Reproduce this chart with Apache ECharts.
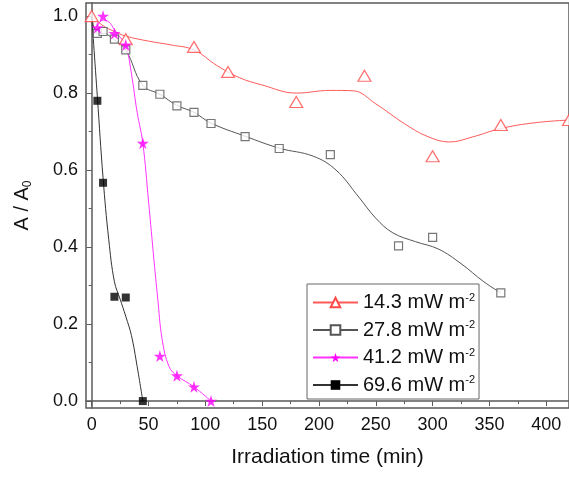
<!DOCTYPE html>
<html>
<head>
<meta charset="utf-8">
<script src="https://cdn.jsdelivr.net/npm/echarts@6/dist/echarts.min.js"></script>
<style>
  html, body { margin: 0; padding: 0; background: #fff; }
  #chart { width: 569px; height: 477px; }
</style>
</head>
<body>
<div id="chart"></div>
<script>
// measured points
var xRed = [0, 30, 90, 120, 180, 240, 300, 360, 420];
var yRed = [1.0, 0.94, 0.92, 0.855, 0.777, 0.845, 0.636, 0.717, 0.73];
var xGray = [5, 10, 20, 30, 45, 60, 75, 90, 105, 135, 165, 210, 270, 300, 360];
var yGray = [0.955, 0.96, 0.94, 0.912, 0.82, 0.797, 0.767, 0.75, 0.721, 0.687, 0.656, 0.64, 0.403, 0.425, 0.281];
var xPink = [5, 10, 20, 30, 45, 60, 75, 90, 105];
var yPink = [0.97, 1.0, 0.955, 0.925, 0.67, 0.117, 0.066, 0.037, 0.0];
var xBlack = [5, 10, 20, 30, 45];
var yBlack = [0.78, 0.567, 0.271, 0.269, 0.0];

// fitted curves
var fitRedX = [0, 10, 20, 30, 50, 70, 90, 110, 130, 150, 180, 210, 230, 250, 275, 295, 315, 335, 360, 390, 420];
var fitRedY = [1.0, 0.975, 0.96, 0.948, 0.935, 0.925, 0.912, 0.872, 0.84, 0.821, 0.80, 0.807, 0.806, 0.772, 0.721, 0.688, 0.673, 0.686, 0.708, 0.723, 0.73];
var fitGrayX = [0, 5, 10, 20, 30, 45, 60, 75, 90, 105, 135, 165, 195, 215, 235, 250, 265, 285, 305, 325, 345, 360];
var fitGrayY = [1.0, 0.955, 0.955, 0.938, 0.912, 0.82, 0.797, 0.768, 0.75, 0.722, 0.688, 0.657, 0.636, 0.6, 0.53, 0.475, 0.437, 0.414, 0.395, 0.357, 0.31, 0.281];
var fitPinkX = [5, 10, 15, 20, 25, 30, 35, 40, 45, 50, 55, 58, 62, 68, 75, 90, 105];
var fitPinkY = [0.975, 0.99, 0.985, 0.965, 0.945, 0.925, 0.85, 0.75, 0.67, 0.52, 0.36, 0.27, 0.16, 0.09, 0.066, 0.037, 0.0];
var fitBlackX = [0, 5, 10, 15, 20, 25, 30, 35, 40, 45];
var fitBlackY = [1.0, 0.79, 0.58, 0.42, 0.31, 0.265, 0.22, 0.17, 0.09, 0.0];

var names = ['14.3 mW m-2', '27.8 mW m-2', '41.2 mW m-2', '69.6 mW m-2'];

var xMajor = [0, 50, 100, 150, 200, 250, 300, 350, 400];
var xMinor = [25, 75, 125, 175, 225, 275, 325, 375];
var yMajor = [0, 0.2, 0.4, 0.6, 0.8, 1.0];
var yMinor = [0.1, 0.3, 0.5, 0.7, 0.9];

var starPath = 'path://M50,0 L61,35 L98,35 L68,57 L79,91 L50,70 L21,91 L32,57 L2,35 L39,35 Z';
var font = 'Liberation Sans, Arial, sans-serif';
var axisColor = '#5a5a5a';

function pairs(xs, ys) {
  var out = [];
  for (var i = 0; i < xs.length; i++) {
    out.push([xs[i], ys[i]]);
  }
  return out;
}

function fitLine(name, xs, ys, color, symbol, symbolSize, itemStyle) {
  return {
    name: name,
    type: 'line',
    smooth: 0.4,
    showSymbol: false,
    symbol: symbol,
    symbolSize: symbolSize,
    data: pairs(xs, ys),
    lineStyle: { color: color, width: 1 },
    itemStyle: itemStyle,
    z: 2
  };
}

function points(name, xs, ys, symbol, symbolSize, itemStyle) {
  return {
    name: name,
    type: 'scatter',
    symbol: symbol,
    symbolSize: symbolSize,
    data: pairs(xs, ys),
    itemStyle: itemStyle,
    z: 5
  };
}

var redStyle = { color: '#fff', borderColor: '#ff4a4a', borderWidth: 1.2 };
var grayStyle = { color: '#fff', borderColor: '#555', borderWidth: 1.2 };
var pinkStyle = { color: '#ff00ff' };
var blackStyle = { color: '#000' };

var chart = echarts.init(document.getElementById('chart'));
chart.setOption({
  animation: false,
  backgroundColor: '#fff',
  textStyle: { fontFamily: font },
  grid: {
    left: 86, top: 3, right: -3, bottom: 69,
    show: true, borderColor: axisColor, borderWidth: 1.5
  },
  legend: {
    data: names,
    orient: 'vertical',
    left: 307, top: 284,
    itemWidth: 45, itemHeight: 12, itemGap: 7,
    padding: [8, 4, 4, 5],
    borderColor: '#666', borderWidth: 1,
    backgroundColor: '#fff',
    formatter: function (name) {
      return '{a|' + name.replace(/-2$/, '') + '}{s|-2}';
    },
    textStyle: {
      color: '#111',
      rich: {
        a: { fontSize: 20, lineHeight: 21, fontFamily: font, color: '#111' },
        s: { fontSize: 11, lineHeight: 10, verticalAlign: 'top', fontFamily: font, color: '#111' }
      }
    }
  },
  xAxis: [{
    type: 'value', min: -5, max: 420,
    position: 'bottom',
    name: 'Irradiation time (min)', nameLocation: 'middle', nameGap: 39,
    nameTextStyle: { fontSize: 21, color: '#111', fontFamily: font },
    axisLine: { show: true, lineStyle: { color: axisColor, width: 1.5 } },
    axisTick: { show: true, inside: false, length: 5, customValues: xMajor, lineStyle: { color: axisColor } },
    axisLabel: { customValues: xMajor, fontSize: 18, color: '#111', margin: 8 },
    splitLine: { show: false }
  }, {
    type: 'value', min: -5, max: 420,
    position: 'bottom',
    axisLine: { show: false },
    axisTick: { show: true, inside: false, length: 3, customValues: xMinor, lineStyle: { color: axisColor } },
    axisLabel: { show: false },
    splitLine: { show: false }
  }],
  yAxis: [{
    type: 'value', min: -0.018, max: 1.034,
    position: 'left',
    name: '{a|A / A}{b|0}', nameLocation: 'middle', nameGap: 52,
    nameTextStyle: {
      fontFamily: font, color: '#111',
      rich: {
        a: { fontSize: 20, lineHeight: 24, fontFamily: font, color: '#111' },
        b: { fontSize: 12, lineHeight: 12, verticalAlign: 'bottom', fontFamily: font, color: '#111' }
      }
    },
    axisLine: { show: true, lineStyle: { color: axisColor, width: 1.5 } },
    axisTick: { show: true, inside: false, length: 5, customValues: yMajor, lineStyle: { color: axisColor } },
    axisLabel: {
      customValues: yMajor, fontSize: 18, color: '#111', margin: 8,
      formatter: function (v) { return v.toFixed(1); }
    },
    splitLine: { show: false }
  }, {
    type: 'value', min: -0.018, max: 1.034,
    position: 'left',
    axisLine: { show: false },
    axisTick: { show: true, inside: false, length: 3, customValues: yMinor, lineStyle: { color: axisColor } },
    axisLabel: { show: false },
    splitLine: { show: false }
  }],
  series: [
    fitLine(names[0], fitRedX, fitRedY, '#ff5a5a', 'triangle', [13, 11], redStyle),
    fitLine(names[1], fitGrayX, fitGrayY, '#555', 'rect', 8, grayStyle),
    fitLine(names[2], fitPinkX, fitPinkY, '#ff33ff', starPath, 12, pinkStyle),
    fitLine(names[3], fitBlackX, fitBlackY, '#333', 'rect', 8, blackStyle),
    points('red points', xRed, yRed, 'triangle', [13, 11], redStyle),
    points('gray points', xGray, yGray, 'rect', 8, grayStyle),
    points('pink points', xPink, yPink, starPath, 12, pinkStyle),
    points('black points', xBlack, yBlack, 'rect', 8, blackStyle)
  ]
});
</script>
</body>
</html>
